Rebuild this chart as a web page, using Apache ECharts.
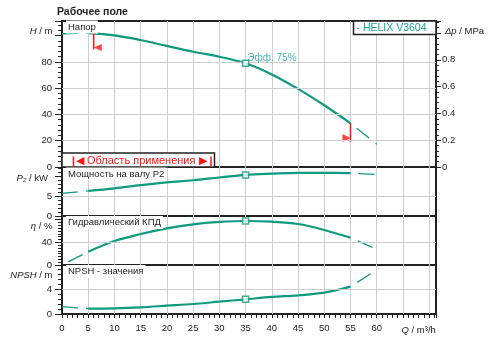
<!DOCTYPE html>
<html>
<head>
<meta charset="utf-8">
<script src="https://cdn.jsdelivr.net/npm/echarts@6/dist/echarts.min.js"></script>
<style>
html,body{margin:0;padding:0;background:#fff}
#c{width:494px;height:345px}
</style>
</head>
<body>
<div id="c"></div>
<script>
// Pump curves, sampled at these flow rates (m³/h)
const flow = [0, 5, 10, 15, 20, 25, 30, 35, 40, 45, 50, 55, 60];
const head = [101.5, 102, 100.3, 96.7, 92.2, 87.8, 84, 79, 70.5, 59.5, 47, 33.3, 17.3];
const power = [5.7, 6.35, 7.0, 7.8, 8.5, 9.05, 9.75, 10.4, 10.7, 10.9, 10.9, 10.85, 10.5];
const efficiency = [0, 23.5, 42.3, 54.6, 64.6, 71.7, 75.8, 77.5, 76.3, 72.2, 61.7, 48.1, 27.7];
const npsh = [1.18, 0.86, 0.92, 1.08, 1.35, 1.62, 2.0, 2.38, 2.76, 3.03, 3.45, 4.43, 7.13];

// Duty point and its label
const dutyFlow = 35;
const dutyLabel = 'Эфф. 75%';

// Operating range limits (flow) and the flag marks on the head curve
const rangeFlow = [6.05, 55];
const rangeHeadTop = [102, 33.3];
const rangeHeadBottom = [89.4, 19.3];
const rangeFlag = [91.1, 22.1];

// Tick values and horizontal grid values per panel
const xTicks = [0, 5, 10, 15, 20, 25, 30, 35, 40, 45, 50, 55, 60];
const headGrid = [20, 40, 60, 80];
const powerGrid = [5];
const effGrid = [40];
const npshGrid = [4];

const TEAL = '#0e9a7e';
const TEXT_TEAL = '#1fa396';
const RED = '#ff1414';
const INK = '#222';
const GRIDC = '#cfcfcf';
const FONT = '"Liberation Sans", Arial, sans-serif';

const chart = echarts.init(document.getElementById('c'), null, { renderer: 'canvas' });

const pairs = v => flow.map((q, i) => [q, v[i]]);
const part = (v, a, b) => pairs(v).filter(p => p[0] >= a && p[0] <= b);

const L = 62, R = 58;
const grids = [
  { left: L, right: R, top: 21, height: 146 },
  { left: L, right: R, top: 167, height: 49 },
  { left: L, right: R, top: 216, height: 49 },
  { left: L, right: R, top: 265, height: 49 }
].map(g => Object.assign(g, { show: true, borderColor: INK, borderWidth: 2, backgroundColor: 'transparent' }));

const xMax = 71.3;
const xAxes = [0, 1, 2, 3].map(i => ({
  gridIndex: i, type: 'value', min: 0, max: xMax, interval: 5,
  axisLine: { show: false },
  axisTick: { show: i === 3, length: 4, lineStyle: { color: INK, width: 1 } },
  minorTick: { show: i === 3, splitNumber: 5, length: 4, lineStyle: { color: INK, width: 1 } },
  axisLabel: {
    show: i === 3, color: INK, fontSize: 9.5, fontFamily: FONT, margin: 9,
    formatter: v => xTicks.includes(v) ? String(v) : ''
  },
  splitLine: { show: true, showMinLine: false, showMaxLine: false, lineStyle: { color: GRIDC, width: 1 } }
}));

function yAxis(gi, max, interval, minorSplit, hideFrom, right) {
  return {
    gridIndex: gi, type: 'value', min: 0, max, interval,
    position: right ? 'right' : 'left',
    axisLine: { show: false },
    splitLine: { show: false },
    axisTick: { show: true, length: right ? 5 : 7, lineStyle: { color: INK, width: 1 } },
    minorTick: { show: true, splitNumber: minorSplit, length: right ? 3 : 4, lineStyle: { color: INK, width: 1 } },
    axisLabel: {
      color: INK, fontSize: 9.5, fontFamily: FONT, margin: right ? 6 : 10,
      formatter: v => {
        const k = v / interval;
        if (Math.abs(k - Math.round(k)) > 1e-6 || v > hideFrom - 1e-6) return '';
        return String(+v.toFixed(1));
      }
    }
  };
}

const yAxes = [
  yAxis(0, 111.2, 20, 5, 100, false),
  yAxis(0, 1.09, 0.2, 5, 1.0, true),
  yAxis(1, 12.4, 5, 5, 10, false),
  yAxis(2, 86.3, 40, 8, 80, false),
  yAxis(3, 7.94, 4, 5, 8, false)
];

const series = [];

// Horizontal grid lines
[[0, 0, headGrid], [1, 2, powerGrid], [2, 3, effGrid], [3, 4, npshGrid]].forEach(([xi, yi, vals]) => {
  series.push({
    type: 'line', xAxisIndex: xi, yAxisIndex: yi, data: [], z: 1, silent: true,
    markLine: {
      silent: true, symbol: ['none', 'none'], label: { show: false }, animation: false,
      lineStyle: { color: GRIDC, type: 'solid', width: 1 },
      data: vals.map(v => ({ yAxis: v }))
    }
  });
});

// Curves: dashed outside the operating range, solid inside
const curves = [
  { values: head, xi: 0, yi: 0, lead: 0 },
  { values: power, xi: 1, yi: 2, lead: 0 },
  { values: efficiency, xi: 2, yi: 3, lead: 17 },
  { values: npsh, xi: 3, yi: 4, lead: 0 }
];

curves.forEach(c => {
  const base = { type: 'line', xAxisIndex: c.xi, yAxisIndex: c.yi, showSymbol: false, silent: true, z: 3 };
  series.push(Object.assign({}, base, {
    data: part(c.values, 0, 5),
    lineStyle: { color: TEAL, width: 1.3, type: [16, 8], dashOffset: c.lead }
  }));
  series.push(Object.assign({}, base, {
    data: part(c.values, 5, 55), smooth: 0.35,
    lineStyle: { color: TEAL, width: 2.2 }
  }));
  series.push(Object.assign({}, base, {
    data: part(c.values, 55, 60),
    lineStyle: { color: TEAL, width: 1.3, type: [16, 8], dashOffset: 16 }
  }));
  series.push({
    type: 'scatter', xAxisIndex: c.xi, yAxisIndex: c.yi, z: 6, silent: true,
    symbol: 'rect', symbolSize: 6,
    itemStyle: { color: '#fff', borderColor: TEAL, borderWidth: 1.5 },
    data: pairs(c.values).filter(p => p[0] === dutyFlow),
    label: c.xi === 0 ? {
      show: true, formatter: dutyLabel, position: 'right', distance: 0, offset: [-2, -5],
      color: TEXT_TEAL, fontSize: 10, fontFamily: FONT
    } : { show: false }
  });
});

// Operating range flags
rangeFlow.forEach((q, i) => {
  series.push({
    type: 'line', xAxisIndex: 0, yAxisIndex: 0, showSymbol: false, silent: true, z: 4,
    data: [[q, rangeHeadTop[i]], [q, rangeHeadBottom[i]]],
    lineStyle: { color: RED, width: 1.5 }
  });
  series.push({
    type: 'scatter', xAxisIndex: 0, yAxisIndex: 0, silent: true, z: 4,
    data: [[q, rangeFlag[i]]],
    symbol: 'triangle', symbolSize: i === 0 ? [7, 8] : [8, 8],
    symbolRotate: i === 0 ? 90 : -90,
    symbolOffset: [i === 0 ? 4 : -4, 0],
    itemStyle: { color: RED }
  });
});

function text(x, y, t, extra) {
  return {
    type: 'text', x, y, z: 100, silent: true,
    style: Object.assign({ text: t, fill: INK, fontSize: 9.5, fontFamily: FONT, verticalAlign: 'middle', align: 'left' }, extra || {})
  };
}
const ital = { i: { fontStyle: 'italic', fontSize: 9.5, fontFamily: FONT, fill: INK } };
const panelTitle = (y, t) => text(66, y, t, { backgroundColor: '#fff', padding: [2, 2, 1, 2] });

const graphic = [
  text(57, 12, 'Рабочее поле', { fontWeight: 'bold', fontSize: 10.5 }),
  panelTitle(27, 'Напор'),
  panelTitle(174, 'Мощность на валу P2'),
  panelTitle(222.5, 'Гидравлический КПД'),
  panelTitle(271.5, 'NPSH - значения'),
  text(52.5, 31, '{i|H} / m', { align: 'right', rich: ital }),
  text(445, 31.5, '{i|Δp} / MPa', { rich: ital }),
  text(48, 178, '{i|P₂} / kW', { align: 'right', rich: ital }),
  text(52.5, 226.7, '{i|η} / %', { align: 'right', rich: ital }),
  text(52.5, 275.7, '{i|NPSH} / m', { align: 'right', rich: ital }),
  text(401.5, 330, '{i|Q} / m³/h', { rich: ital }),
  // Series legend box
  { type: 'rect', z: 99, silent: true, shape: { x: 353.5, y: 21, width: 82.5, height: 13.5 },
    style: { fill: '#fff', stroke: INK, lineWidth: 1.5 } },
  text(356.5, 28, '- HELIX V3604', { fill: TEXT_TEAL, fontSize: 10.5 }),
  // Operating range legend box
  { type: 'rect', z: 99, silent: true, shape: { x: 62, y: 153, width: 152.5, height: 14 },
    style: { fill: '#fff', stroke: INK, lineWidth: 1.5 } },
  text(141.2, 160.5, '◀ Область применения ▶', { fill: RED, fontSize: 11, align: 'center' }),
  { type: 'line', z: 100, silent: true, shape: { x1: 73.5, y1: 156.5, x2: 73.5, y2: 166 }, style: { stroke: RED, lineWidth: 1.5 } },
  { type: 'line', z: 100, silent: true, shape: { x1: 211, y1: 156.5, x2: 211, y2: 166 }, style: { stroke: RED, lineWidth: 1.5 } }
];

chart.setOption({
  animation: false,
  backgroundColor: '#fff',
  grid: grids,
  xAxis: xAxes,
  yAxis: yAxes,
  series,
  graphic
});
</script>
</body>
</html>
